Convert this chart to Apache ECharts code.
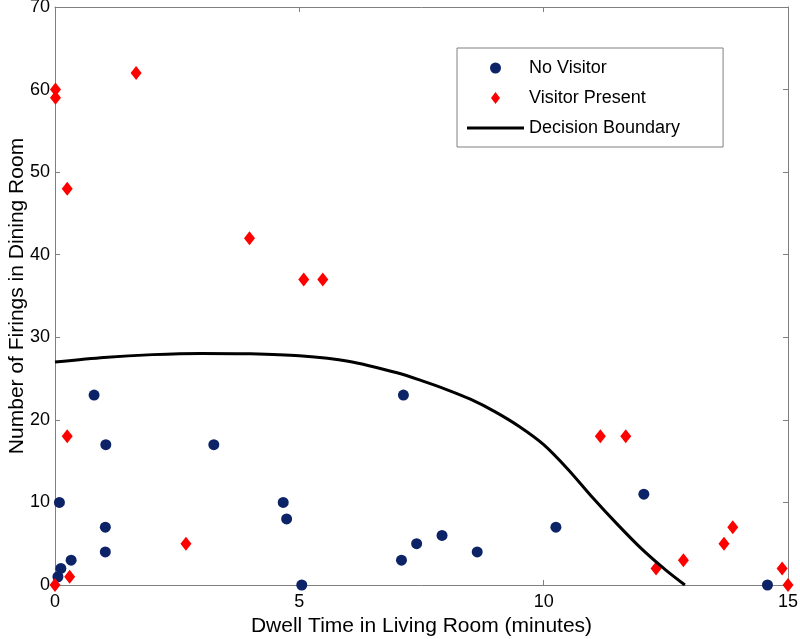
<!DOCTYPE html>
<html>
<head>
<meta charset="utf-8">
<script src="https://cdn.jsdelivr.net/npm/echarts@6/dist/echarts.min.js"></script>
<style>
html,body{margin:0;padding:0;background:#fff;}
#chart{width:800px;height:639px;}
</style>
</head>
<body>
<div id="chart"></div>
<script>
// Data
const noVisitorX = [0.06, 0.12, 0.09, 0.33, 0.8, 1.03, 1.03, 1.04, 3.25, 4.67, 4.74, 5.05, 7.09, 7.13, 7.4, 7.92, 8.64, 10.25, 12.05, 14.58];
const noVisitorY = [1, 2, 10, 3, 23, 4, 7, 17, 17, 10, 8, 0, 3, 23, 5, 6, 4, 7, 11, 0];
const visitorX = [0, 0.01, 0.01, 0.25, 0.25, 0.3, 1.66, 2.68, 3.98, 5.09, 5.48, 11.16, 11.68, 12.3, 12.86, 13.69, 13.87, 14.88, 15];
const visitorY = [0, 60, 59, 48, 18, 1, 62, 5, 42, 37, 37, 18, 18, 2, 3, 5, 7, 2, 0];
const boundaryX = [0, 1, 2, 3, 4, 5, 6, 7, 7.5, 8, 8.5, 9, 9.5, 10, 10.5, 11, 11.5, 12, 12.5, 12.89];
const boundaryY = [27.0, 27.55, 27.9, 28.05, 28.0, 27.75, 27.1, 25.7, 24.75, 23.7, 22.5, 21.0, 19.2, 17.0, 14.0, 10.6, 7.4, 4.4, 1.8, 0];
const xTicks = [0, 5, 10, 15];
const yTicks = [0, 10, 20, 30, 40, 50, 60, 70];
const seriesNames = ['No Visitor', 'Visitor Present', 'Decision Boundary'];
const xTitle = 'Dwell Time in Living Room (minutes)';
const yTitle = 'Number of Firings in Dining Room';

const zip = (xs, ys) => xs.map((x, i) => [x, ys[i]]);
const font = 'Liberation Sans, Arial, sans-serif';
const axisGray = '#7f7f7f';

const chart = echarts.init(document.getElementById('chart'), null, {renderer: 'canvas'});
const baseX = {
  type: 'value', min: xTicks[0], max: xTicks[xTicks.length - 1], interval: 5,
  axisLine: {show: true, onZero: false, lineStyle: {color: axisGray, width: 1}},
  axisTick: {show: true, inside: true, length: 5, lineStyle: {color: axisGray}},
  splitLine: {show: false}
};
const baseY = {
  type: 'value', min: yTicks[0], max: yTicks[yTicks.length - 1], interval: 10,
  axisLine: {show: true, onZero: false, lineStyle: {color: axisGray, width: 1}},
  axisTick: {show: true, inside: true, length: 5, lineStyle: {color: axisGray}},
  splitLine: {show: false}
};
chart.setOption({
  animation: false,
  backgroundColor: '#fff',
  grid: {left: 55, right: 12, top: 7, bottom: 54, containLabel: false, outerBoundsMode: 'none'},
  xAxis: [
    Object.assign({}, baseX, {
      position: 'bottom',
      axisLabel: {show: true, color: '#000', fontSize: 18, fontFamily: font, margin: 8},
      name: xTitle, nameLocation: 'middle', nameGap: 31, nameMoveOverlap: false,
      nameTextStyle: {color: '#000', fontSize: 21, fontFamily: font}
    }),
    Object.assign({}, baseX, {position: 'top', axisLabel: {show: false}})
  ],
  yAxis: [
    Object.assign({}, baseY, {
      position: 'left',
      axisLabel: {show: true, color: '#000', fontSize: 18, fontFamily: font, margin: 5},
      name: yTitle, nameLocation: 'middle', nameGap: 27, nameMoveOverlap: false,
      nameTextStyle: {color: '#000', fontSize: 21, fontFamily: font}
    }),
    Object.assign({}, baseY, {position: 'right', axisLabel: {show: false}})
  ],
  legend: {
    orient: 'vertical', align: 'left',
    left: 457, top: 48,
    padding: [10, 43, 9, 10],
    itemWidth: 57, itemHeight: 12, itemGap: 10,
    backgroundColor: '#fff', borderColor: '#808080', borderWidth: 1,
    textStyle: {color: '#000', fontSize: 18, fontFamily: font, lineHeight: 20},
    data: [
      {name: seriesNames[0], icon: 'path://M0,0M57,12M28.5,0.5A5.5,5.5 0 1,1 28.5,11.5A5.5,5.5 0 1,1 28.5,0.5Z'},
      {name: seriesNames[1], icon: 'path://M0,0M57,12M28.5,0L33,6L28.5,12L24,6Z'},
      {name: seriesNames[2], icon: 'path://M0,0M57,12M0,4.5L57,4.5L57,7.5L0,7.5Z'}
    ]
  },
  series: [
    {
      name: seriesNames[0], type: 'scatter', symbol: 'circle', symbolSize: 11,
      itemStyle: {color: '#0c2467', opacity: 1},
      data: zip(noVisitorX, noVisitorY), z: 3
    },
    {
      name: seriesNames[1], type: 'scatter', symbol: 'diamond', symbolSize: [11, 14],
      itemStyle: {color: '#ff0000', opacity: 1},
      data: zip(visitorX, visitorY), z: 4
    },
    {
      name: seriesNames[2], type: 'line', symbol: 'none', smooth: 0.25,
      lineStyle: {color: '#000', width: 3},
      itemStyle: {color: '#000'},
      data: zip(boundaryX, boundaryY), z: 5
    }
  ]
});
</script>
</body>
</html>
